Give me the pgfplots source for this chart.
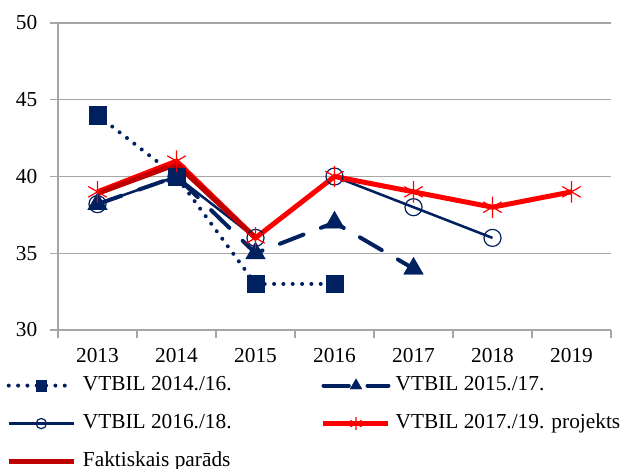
\documentclass[border=0pt]{standalone}
\usepackage{fontspec}
\setmainfont{Liberation Serif}
\usepackage{pgfplots}
\pgfplotsset{compat=1.18}
\definecolor{navy}{HTML}{002060}
\definecolor{brightred}{HTML}{FF0000}
\definecolor{darkred}{HTML}{C00000}
\definecolor{gridgray}{HTML}{A6A6A6}
\begin{document}
\fontsize{16pt}{19pt}\selectfont
\begin{tikzpicture}
\begin{axis}[
  name=ax,
  scale only axis,
  width=414.75pt, height=230.25pt,
  xmin=-0.5, xmax=6.5,
  ymin=30, ymax=50,
  xtick={0,...,6},
  xticklabels={2013,2014,2015,2016,2017,2018,2019},
  minor xtick={-0.5,0.5,...,6.5},
  major x tick style={draw=none},
  ytick={30,35,...,50},
  ymajorgrids,
  grid style={gridgray, line width=0.8pt},
  axis x line*=bottom,
  axis y line*=left,
  axis line style={gridgray, line width=0.8pt, -},
  tick style={gridgray, line width=0.8pt},
  tick align=outside,
  major tick length=6pt,
  minor tick length=6pt,
  every tick label/.append style={font=\fontsize{16pt}{19pt}\selectfont, text=black},
  /pgf/number format/assume math mode=true,
  xticklabel style={yshift=-2pt},
  yticklabel style={xshift=-4pt},
  legend columns=2,
  legend cell align=left,
  legend style={
    at={(rel axis cs:0,0)}, anchor=north west,
    xshift=-39pt, yshift=-33.5pt,
    draw=none, fill=none, inner sep=0pt,
    font=\fontsize{16pt}{19pt}\selectfont,
    nodes={inner sep=0pt, text height=12pt, text depth=4pt},
    row sep=12.5pt,
    /tikz/column 1/.style={column sep=5pt},
    /tikz/column 2/.style={column sep=67pt},
    /tikz/column 3/.style={column sep=3.5pt},
  },
  legend image code/.code={
    \draw[mark repeat=2,mark phase=2,#1, every mark/.append style={scale=0.6}] plot coordinates {(0pt,0pt) (24.4pt,0pt) (48.75pt,0pt)};
  },
]
\addplot[navy, line width=3pt, line cap=round, dash pattern=on 0pt off 7pt,
  mark=square*, mark size=6.5pt, mark options={solid, fill=navy, line width=0.3pt}]
  coordinates {(0,44) (1,40) (2,33) (3,33)};
\addlegendentry{VTBIL 2014./16.}
\addplot[navy, line width=3pt, line cap=round, dash pattern=on 19pt off 14pt,
  mark=triangle*, mark size=8.5pt, mark options={solid, fill=navy, line width=0.3pt}]
  coordinates {(0,38.2) (1,40) (2,35) (3,37) (4,34)};
\addlegendentry{VTBIL 2015./17.}
\addplot[navy, line width=1.9pt,
  mark=o, mark size=6.4pt, mark options={solid, line width=0.9pt}]
  coordinates {(0,38.2) (1,40) (2,36) (3,40) (4,38) (5,36)};
\addlegendentry{VTBIL 2016./18.}
\addplot[brightred, line width=3.75pt,
  mark=asterisk, mark size=8pt, mark options={solid, line width=0.9pt}]
  coordinates {(0,39) (1,41) (2,36) (3,40) (4,39) (5,38) (6,39)};
\addlegendentry{VTBIL 2017./19. projekts}
\addplot[darkred, line width=3.75pt, no marks]
  coordinates {(0,38.9) (1,40.8) (2,36.0)};
\addlegendentry{Faktiskais parāds}
\end{axis}
\pgfresetboundingbox
\path ([shift={(-43.5pt,-103.5pt)}]ax.south west) rectangle ([shift={(10.5pt,17.25pt)}]ax.north east);
\end{tikzpicture}
\end{document}
